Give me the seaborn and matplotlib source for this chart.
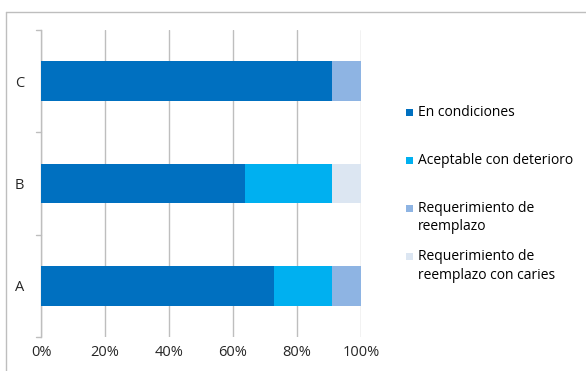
import matplotlib
matplotlib.use("Agg")
import matplotlib.pyplot as plt
import seaborn as sns
import pandas as pd
import numpy as np
from matplotlib.patches import Rectangle
from matplotlib.lines import Line2D

categories = ["C", "B", "A"]
series_names = ["En condiciones", "Aceptable con deterioro",
                "Requerimiento de\nreemplazo", "Requerimiento de\nreemplazo con caries"]
en_condiciones = [90.9, 63.6, 72.7]
aceptable = [0.0, 27.3, 18.2]
reemplazo = [9.1, 0.0, 9.1]
reemplazo_caries = [0.0, 9.1, 0.0]
x_ticks = [0, 20, 40, 60, 80, 100]
x_tick_labels = ["0%", "20%", "40%", "60%", "80%", "100%"]

colors = ["#0070C0", "#00B0F0", "#8EB4E3", "#DCE6F2"]

sns.set_style("white")
plt.rcParams["font.family"] = ["Open Sans", "DejaVu Sans"]

W, H = 586, 371
fig = plt.figure(figsize=(W/100, H/100), dpi=100)
ax = fig.add_axes([41/W, 1-337/H, 320/W, 307/H])

vals = np.array([en_condiciones, aceptable, reemplazo, reemplazo_caries])
cum = np.cumsum(vals, axis=0)
for i in range(3, -1, -1):
    df = pd.DataFrame({"cat": categories, "v": cum[i]})
    sns.barplot(data=df, x="v", y="cat", order=categories, orient="h",
                color=colors[i], saturation=1, width=0.39, ax=ax, zorder=3,
                linewidth=0, edgecolor="none")

ax.set_xlim(0, 100)
ax.set_ylim(2.5, -0.5)
ax.set_xticks(x_ticks)
ax.set_xticklabels(x_tick_labels, fontsize=10.5)
ax.set_xlabel("")
ax.set_ylabel("")
ax.tick_params(axis="y", labelsize=10.5, length=0, pad=12)
ax.tick_params(axis="x", length=0, pad=6)
ax.grid(axis="x", color="#BEBEBE", linewidth=1, zorder=0)
ax.set_axisbelow(True)
for s in ["top", "right", "bottom"]:
    ax.spines[s].set_visible(False)
ax.spines["left"].set_color("#BEBEBE")
ax.spines["left"].set_linewidth(1)
for yb in [-0.5, 0.5, 1.5, 2.5]:
    ax.plot([-1.5, 0], [yb, yb], color="#BEBEBE", lw=1, clip_on=False, zorder=1)

# figure border (left & top visible)
fig.add_artist(Line2D([6/W, 6/W], [0, 1-12/H], transform=fig.transFigure, color="#BEBEBE", lw=1))
fig.add_artist(Line2D([6/W, 1], [1-12/H, 1-12/H], transform=fig.transFigure, color="#BEBEBE", lw=1))

# legend (square aligned with first text line, like the original)
legend_y = [112.5, 160.5, 208, 256.5]
line_h = 18.7
for c, name, y in zip(colors, series_names, legend_y):
    fig.add_artist(Rectangle((406/W, 1-(y+3.5)/H), 7/W, 7/H, transform=fig.transFigure,
                             facecolor=c, edgecolor="none"))
    for k, line in enumerate(name.split("\n")):
        fig.text(418/W, 1-(y+k*line_h)/H, line, fontsize=10, va="center", ha="left",
                 color="#000000")

fig.savefig("out.png", dpi=100)
